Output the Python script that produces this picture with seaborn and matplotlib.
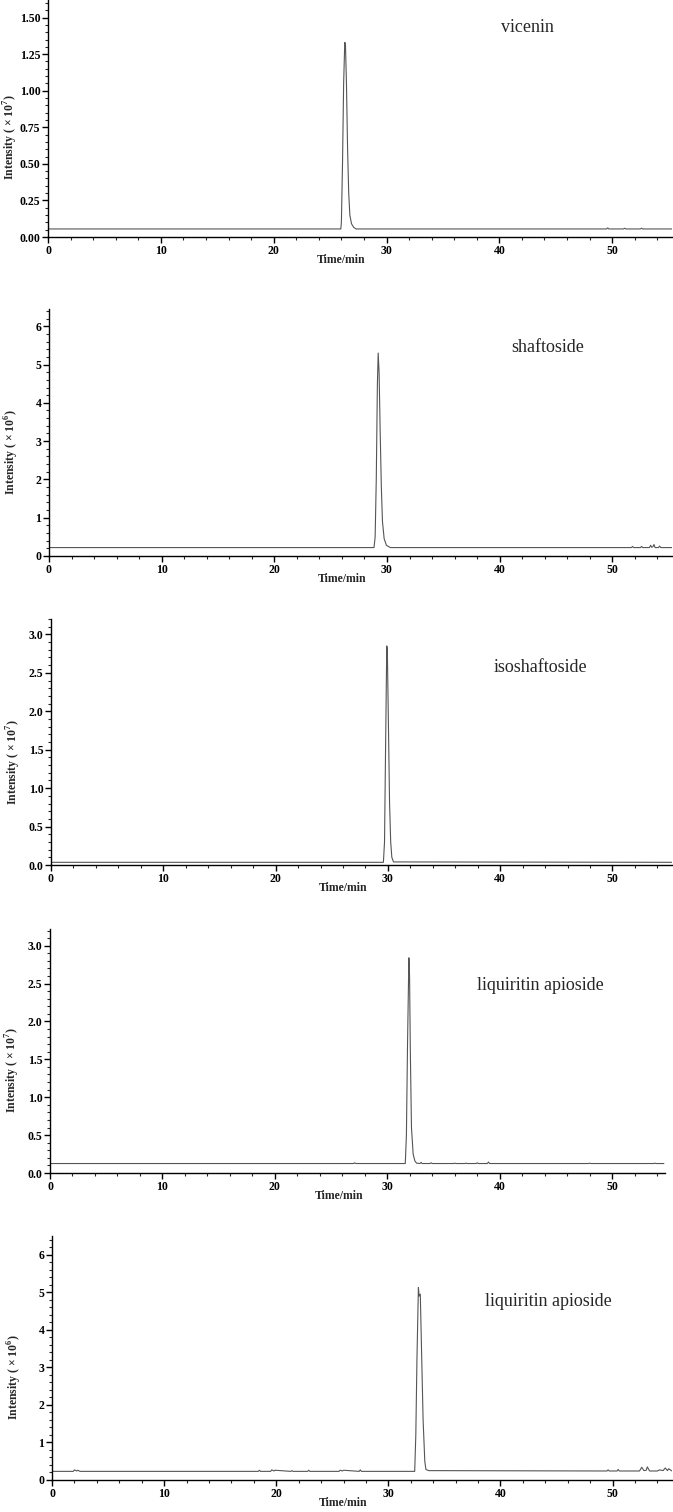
import numpy as np
import pandas as pd
import seaborn as sns
import matplotlib.pyplot as plt
from matplotlib.ticker import MultipleLocator, FormatStrFormatter

sns.set_style("ticks")
plt.rcParams['font.family'] = ['Liberation Serif', 'DejaVu Serif']
plt.rcParams['mathtext.fontset'] = 'custom'
plt.rcParams['mathtext.rm'] = 'Liberation Serif'
plt.rcParams['mathtext.bf'] = 'Liberation Serif:bold'

# traces (time in min, intensity in axis units)
t_vicenin = [0, 25.95, 26.0, 26.1, 26.2, 26.3, 26.36, 26.45, 26.55, 26.65, 26.75, 26.9, 27.1, 27.3,
             49.5, 49.6, 49.7, 51.0, 51.1, 51.2, 52.5, 52.6, 52.7, 55.3]
i_vicenin = [0.055, 0.055, 0.1, 0.5, 1.05, 1.33, 1.32, 1.05, 0.6, 0.3, 0.15, 0.09, 0.065, 0.055,
             0.055, 0.062, 0.055, 0.055, 0.06, 0.055, 0.055, 0.06, 0.055, 0.055]

t_shaftoside = [0, 28.85, 28.95, 29.05, 29.15, 29.22, 29.3, 29.4, 29.5, 29.6, 29.75, 29.95, 30.3,
                51.7, 51.8, 51.9, 52.5, 52.6, 52.7, 53.3, 53.4, 53.5, 53.6, 53.7, 53.8, 54.1, 54.2, 54.3, 55.3]
i_shaftoside = [0.22, 0.22, 0.5, 2.0, 4.5, 5.3, 4.8, 3.2, 1.8, 0.9, 0.45, 0.28, 0.22,
                0.22, 0.25, 0.22, 0.22, 0.25, 0.22, 0.22, 0.28, 0.23, 0.24, 0.3, 0.22, 0.22, 0.26, 0.22, 0.22]

t_isoshaftoside = [0, 29.6, 29.7, 29.8, 29.9, 29.95, 30.05, 30.15, 30.25, 30.35, 30.5, 55.3]
i_isoshaftoside = [0.035, 0.035, 0.3, 1.6, 2.85, 2.8, 1.8, 0.8, 0.3, 0.1, 0.04, 0.035]

t_liq1 = [0, 27.0, 27.1, 27.2, 31.6, 31.7, 31.8, 31.92, 31.98, 32.05, 32.15, 32.3, 32.45, 32.6,
          32.9, 33.0, 33.1, 33.8, 33.9, 34.0, 35.9, 36.0, 36.1, 36.9, 37.0, 37.1,
          37.9, 38.0, 38.1, 38.9, 39.0, 39.1, 47.9, 48.0, 48.1, 53.7, 53.8, 53.9, 54.6]
i_liq1 = [0.125, 0.125, 0.135, 0.125, 0.125, 0.5, 1.7, 2.84, 2.6, 1.6, 0.6, 0.25, 0.16, 0.13,
          0.125, 0.14, 0.125, 0.125, 0.135, 0.125, 0.125, 0.13, 0.125, 0.125, 0.13, 0.125,
          0.125, 0.135, 0.125, 0.125, 0.145, 0.125, 0.125, 0.13, 0.125, 0.125, 0.13, 0.125, 0.125]

t_liq2 = [0, 1.9, 2.0, 2.2, 2.3, 2.5, 18.4, 18.5, 18.6, 19.5, 19.6, 19.8, 19.9, 21.3, 21.4, 21.5,
          22.8, 22.9, 23.0, 25.6, 25.7, 25.9, 26.0, 27.4, 27.5, 27.6,
          32.35, 32.45, 32.55, 32.68, 32.75, 32.85, 32.95, 33.1, 33.25, 33.35, 33.6,
          49.5, 49.6, 49.7, 50.4, 50.5, 50.6, 52.4, 52.6, 52.8, 53.0, 53.1, 53.3,
          54.0, 54.2, 54.5, 54.7, 54.9, 55.0, 55.3]
i_liq2 = [0.23, 0.23, 0.27, 0.24, 0.26, 0.23, 0.23, 0.26, 0.23, 0.23, 0.27, 0.24, 0.26, 0.23, 0.25, 0.23,
          0.23, 0.26, 0.23, 0.23, 0.26, 0.24, 0.26, 0.23, 0.27, 0.23,
          0.23, 1.2, 3.2, 5.13, 4.9, 4.95, 3.6, 1.6, 0.5, 0.28, 0.25,
          0.24, 0.27, 0.24, 0.24, 0.28, 0.24, 0.24, 0.34, 0.25, 0.26, 0.35, 0.24,
          0.24, 0.27, 0.25, 0.32, 0.25, 0.3, 0.24]

names = ['vicenin', 'shaftoside', 'isoshaftoside', 'liquiritin apioside', 'liquiritin apioside']
exponents = ['7', '6', '7', '7', '6']
ymax = [1.62, 6.45, 3.2, 3.22, 6.5]
ymajor = [0.25, 1, 0.5, 0.5, 1]
yminor = [0.05, 0.2, 0.1, 0.1, 0.2]
yfmt = ['%.2f', '%d', '%.1f', '%.1f', '%d']
xmax = [55.3, 55.3, 55.3, 54.7, 55.3]

traces = [(t_vicenin, i_vicenin), (t_shaftoside, i_shaftoside), (t_isoshaftoside, i_isoshaftoside),
          (t_liq1, i_liq1), (t_liq2, i_liq2)]

# axes boxes in pixels: left, top, right, bottom
boxes = [(48, 0, 672, 237), (49, 309, 672, 556), (51, 619, 672, 865),
         (50, 929, 665, 1173), (52, 1236, 672, 1480)]
label_pos = [(527, 27), (548, 348), (540, 667), (540, 985), (548, 1302)]

W, H = 673, 1512
fig = plt.figure(figsize=(W / 100, H / 100), dpi=100)

for k in range(5):
    l, t, r, b = boxes[k]
    ax = fig.add_axes([l / W, 1 - b / H, (r - l) / W, (b - t) / H])
    df = pd.DataFrame({'Time': traces[k][0], 'Intensity': traces[k][1]})
    sns.lineplot(data=df, x='Time', y='Intensity', ax=ax, estimator=None, sort=False,
                 color='#555555', linewidth=0.8)
    ax.set_xlim(0, xmax[k])
    ax.set_ylim(0, ymax[k])
    ax.xaxis.set_major_locator(MultipleLocator(10))
    ax.xaxis.set_minor_locator(MultipleLocator(2))
    ax.yaxis.set_major_locator(MultipleLocator(ymajor[k]))
    ax.yaxis.set_minor_locator(MultipleLocator(yminor[k]))
    ax.yaxis.set_major_formatter(FormatStrFormatter(yfmt[k]))
    ax.tick_params(which='major', direction='out', length=4, width=1.0, pad=1.5,
                   labelsize=8.5, colors='black')
    ax.tick_params(which='minor', direction='out', length=2.5, width=0.8)
    for lab in ax.get_xticklabels() + ax.get_yticklabels():
        lab.set_fontweight('bold')
    sns.despine(ax=ax)
    for sp in ['left', 'bottom']:
        ax.spines[sp].set_linewidth(1.0)
        ax.spines[sp].set_color('black')
    ax.set_xlabel('Time/min', fontsize=8.5, fontweight='bold')
    ax.xaxis.set_label_coords(0.47, -0.07)
    ax.set_ylabel('Intensity ( × 10$^{\\mathbf{' + exponents[k] + '}}$)', fontsize=8.5, fontweight='bold')
    ax.yaxis.set_label_coords(-28 / (r - l), 0.42)
    lx, ly = label_pos[k]
    fig.text(lx / W, 1 - ly / H, names[k], fontsize=13, ha='center', va='center')

fig.savefig('out.png', dpi=100, facecolor='white')
